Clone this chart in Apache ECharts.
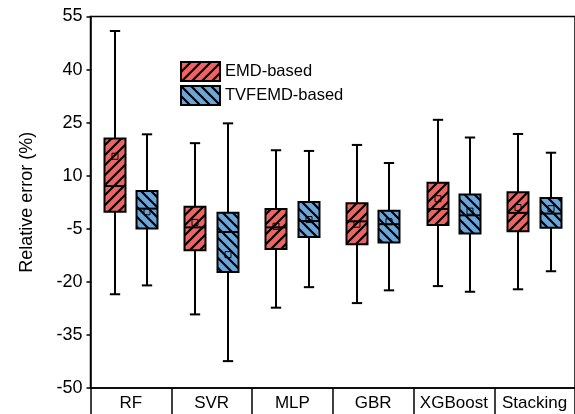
<!DOCTYPE html>
<html>
<head>
<meta charset="utf-8">
<script src="https://cdn.jsdelivr.net/npm/echarts@6/dist/echarts.min.js"></script>
<style>
html,body{margin:0;padding:0;background:#fff;}
#chart{width:575px;height:414px;}
</style>
</head>
<body>
<div id="chart"></div>
<script>
const categories = ['RF', 'SVR', 'MLP', 'GBR', 'XGBoost', 'Stacking'];
const seriesNames = ['EMD-based', 'TVFEMD-based'];
const yTicks = [-50, -35, -20, -5, 10, 25, 40, 55];

// EMD-based
const emdMin    = [-23.5, -29.2, -27.3, -26.0, -21.2, -22.1];
const emdQ1     = [-0.2, -11.1, -10.7, -9.4, -3.9, -5.7];
const emdMedian = [7.1, -4.6, -4.6, -2.9, 0.6, -0.5];
const emdQ3     = [20.5, 1.2, 0.6, 2.2, 8.0, 5.3];
const emdMax    = [50.9, 19.2, 17.2, 18.7, 25.8, 21.8];
const emdMean   = [15.5, -3.2, -4.3, -3.7, 3.5, 1.0];

// TVFEMD-based
const tvfMin    = [-21.0, -42.4, -21.5, -22.4, -22.8, -17.0];
const tvfQ1     = [-4.9, -17.2, -7.3, -8.9, -6.3, -4.7];
const tvfMedian = [0.7, -5.9, -2.8, -3.7, -1.2, -0.7];
const tvfQ3     = [5.7, -0.5, 2.6, 0.1, 4.7, 3.7];
const tvfMax    = [21.7, 24.8, 17.0, 13.6, 20.8, 16.5];
const tvfMean   = [-0.2, -12.3, -2.4, -3.0, 0.0, 0.7];

function makePattern(bg, forward) {
  const s = 10;
  const c = document.createElement('canvas');
  c.width = s; c.height = s;
  const g = c.getContext('2d');
  g.fillStyle = bg;
  g.fillRect(0, 0, s, s);
  g.strokeStyle = '#000';
  g.lineWidth = 2.2;
  g.beginPath();
  if (forward) {
    g.moveTo(-2, s + 2); g.lineTo(s + 2, -2);
    g.moveTo(-2, 2); g.lineTo(2, -2);
    g.moveTo(s - 2, s + 2); g.lineTo(s + 2, s - 2);
  } else {
    g.moveTo(-2, -2); g.lineTo(s + 2, s + 2);
    g.moveTo(-2, s - 2); g.lineTo(2, s + 2);
    g.moveTo(s - 2, -2); g.lineTo(s + 2, 2);
  }
  g.stroke();
  return { image: c, repeat: 'repeat' };
}
const redPattern = makePattern('#EF6462', true);
const bluePattern = makePattern('#6AA6DA', false);
const patterns = [redPattern, bluePattern];

function build(mins, q1s, meds, q3s, maxs, means) {
  return categories.map((c, i) => [i, mins[i], q1s[i], meds[i], q3s[i], maxs[i], means[i]]);
}
const emdData = build(emdMin, emdQ1, emdMedian, emdQ3, emdMax, emdMean);
const tvfData = build(tvfMin, tvfQ1, tvfMedian, tvfQ3, tvfMax, tvfMean);

function renderBox(params, api) {
  const cat = api.value(0);
  const bw = api.size([1, 0])[0];
  const off = (params.seriesIndex === 0 ? -0.2 : 0.2) * bw;
  const cx = Math.round(api.coord([cat, 0])[0] + off);
  const Y = v => api.coord([cat, v])[1];
  const yMin = Y(api.value(1)), yQ1 = Y(api.value(2)), yMed = Y(api.value(3)),
        yQ3 = Y(api.value(4)), yMax = Y(api.value(5)), yMean = Y(api.value(6));
  const hw = 0.13 * bw;
  const cw = 0.064 * bw;
  const ls = { stroke: '#000', lineWidth: 2 };
  return {
    type: 'group',
    children: [
      { type: 'line', shape: { x1: cx, y1: yMax, x2: cx, y2: yQ3 }, style: ls },
      { type: 'line', shape: { x1: cx, y1: yQ1, x2: cx, y2: yMin }, style: ls },
      { type: 'line', shape: { x1: cx - cw, y1: yMax, x2: cx + cw, y2: yMax }, style: ls },
      { type: 'line', shape: { x1: cx - cw, y1: yMin, x2: cx + cw, y2: yMin }, style: ls },
      { type: 'rect', shape: { x: cx - hw, y: yQ3, width: 2 * hw, height: yQ1 - yQ3 },
        style: { fill: patterns[params.seriesIndex], stroke: '#000', lineWidth: 2 } },
      { type: 'line', shape: { x1: cx - hw, y1: yMed, x2: cx + hw, y2: yMed }, style: ls },
      { type: 'rect', shape: { x: cx - 3, y: yMean - 3, width: 6, height: 6 },
        style: { fill: 'none', stroke: '#000', lineWidth: 1 } }
    ]
  };
}

const font = "'Liberation Sans', Arial, sans-serif";
const chart = echarts.init(document.getElementById('chart'), null, { renderer: 'canvas' });
chart.setOption({
  animation: false,
  backgroundColor: '#fff',
  textStyle: { fontFamily: font },
  grid: { left: 90.5, top: 16.5, right: -6.5, bottom: 26, show: true, borderColor: '#000', borderWidth: 1.5 },
  legend: {
    orient: 'vertical', left: 175, top: 56, itemWidth: 39, itemHeight: 19, itemGap: 3,
    icon: 'rect',
    textStyle: { fontSize: 16.5, color: '#000', fontFamily: font },
    data: seriesNames.map((n, i) => ({ name: n, itemStyle: { color: patterns[i], borderColor: '#000', borderWidth: 2 } }))
  },
  xAxis: {
    type: 'category', data: categories, boundaryGap: true,
    axisLine: { show: true, onZero: false, lineStyle: { color: '#000', width: 1.5 } },
    axisTick: { show: true, interval: 0, length: 30, lineStyle: { color: '#000', width: 1.5 } },
    axisLabel: { interval: 0, margin: 7, fontSize: 17, color: '#000', fontFamily: font },
    splitLine: { show: false }
  },
  yAxis: {
    type: 'value', min: -50, max: 55, interval: 15,
    name: 'Relative error (%)', nameLocation: 'middle', nameRotate: 90, nameGap: 54,
    nameTextStyle: { fontSize: 18, color: '#000', fontFamily: font },
    axisLine: { show: true, lineStyle: { color: '#000', width: 1.5 } },
    axisTick: { show: true, length: 4, lineStyle: { color: '#000', width: 1.5 } },
    axisLabel: { margin: 8, fontSize: 18, color: '#000', fontFamily: font,
      formatter: v => yTicks.includes(v) ? String(v) : '' },
    splitLine: { show: false }
  },
  series: [
    { name: seriesNames[0], type: 'custom', renderItem: renderBox, data: emdData,
      encode: { x: 0, y: [1, 2, 3, 4, 5, 6] }, itemStyle: { color: redPattern, borderColor: '#000' } },
    { name: seriesNames[1], type: 'custom', renderItem: renderBox, data: tvfData,
      encode: { x: 0, y: [1, 2, 3, 4, 5, 6] }, itemStyle: { color: bluePattern, borderColor: '#000' } }
  ]
});
</script>
</body>
</html>
